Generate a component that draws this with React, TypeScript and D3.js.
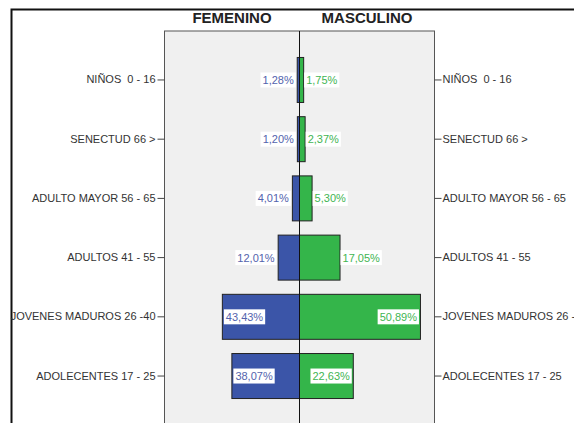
import React, { useEffect, useRef } from "react";
import * as d3 from "d3";

const categories = [
  "NIÑOS  0 - 16",
  "SENECTUD 66 >",
  "ADULTO MAYOR 56 - 65",
  "ADULTOS 41 - 55",
  "JOVENES MADUROS 26 -40",
  "ADOLECENTES 17 - 25",
];
const femenino = [1.28, 1.2, 4.01, 12.01, 43.43, 38.07];
const masculino = [1.75, 2.37, 5.3, 17.05, 50.89, 22.63];
const femLabels = ["1,28%", "1,20%", "4,01%", "12,01%", "43,43%", "38,07%"];
const mascLabels = ["1,75%", "2,37%", "5,30%", "17,05%", "50,89%", "22,63%"];
const femMax = 76;
const mascMax = 56.8;

const W = 574;
const H = 423;
const FONT = "'Liberation Sans', Arial, Helvetica, sans-serif";

export default function App() {
  const ref = useRef<SVGSVGElement>(null);

  useEffect(() => {
    const svg = d3.select(ref.current!);
    svg.selectAll("*").remove();

    const plotL = 164.5;
    const plotR = 434.5;
    const plotT = 31;
    const plotB = 425;
    const mid = 299.5;

    const y = d3
      .scaleBand<string>()
      .domain(categories)
      .range([plotT, plotB])
      .paddingInner(0.24)
      .paddingOuter(0.447);
    const xF = d3.scaleLinear().domain([0, femMax]).range([mid, plotL]);
    const xM = d3.scaleLinear().domain([0, mascMax]).range([mid, plotR]);

    // outer frame
    svg
      .append("rect")
      .attr("x", 11.5)
      .attr("y", 9.5)
      .attr("width", W + 20)
      .attr("height", H + 20)
      .attr("fill", "none")
      .attr("stroke", "#111")
      .attr("stroke-width", 2);

    // titles
    svg
      .append("text")
      .attr("x", (plotL + mid) / 2)
      .attr("y", 23)
      .attr("text-anchor", "middle")
      .attr("font-family", FONT)
      .attr("font-weight", "bold")
      .attr("font-size", 15)
      .attr("fill", "#222")
      .text("FEMENINO");
    svg
      .append("text")
      .attr("x", (mid + plotR) / 2)
      .attr("y", 23)
      .attr("text-anchor", "middle")
      .attr("font-family", FONT)
      .attr("font-weight", "bold")
      .attr("font-size", 15)
      .attr("fill", "#222")
      .text("MASCULINO");

    // plot background
    svg
      .append("rect")
      .attr("x", plotL)
      .attr("y", plotT)
      .attr("width", plotR - plotL)
      .attr("height", plotB - plotT)
      .attr("fill", "#f0f0f0")
      .attr("stroke", "#555")
      .attr("stroke-width", 1);

    // axes
    const leftAxis = d3.axisLeft(y).tickSize(7).tickPadding(2);
    const gL = svg.append("g").attr("transform", `translate(${plotL},0)`).call(leftAxis);
    const rightAxis = d3.axisRight(y).tickSize(7).tickPadding(1);
    const gR = svg.append("g").attr("transform", `translate(${plotR},0)`).call(rightAxis);
    [gL, gR].forEach((g) => {
      g.select(".domain").remove();
      g.selectAll("line").attr("stroke", "#444");
      g.selectAll("text")
        .attr("font-family", FONT)
        .attr("font-size", 11)
        .attr("fill", "#333")
        .style("white-space", "pre");
    });

    const bw = y.bandwidth();

    // bars
    svg
      .append("g")
      .selectAll("rect")
      .data(categories)
      .join("rect")
      .attr("x", (_, i) => xF(femenino[i]))
      .attr("y", (d) => y(d)!)
      .attr("width", (_, i) => mid - xF(femenino[i]))
      .attr("height", bw)
      .attr("fill", "#3b55a8")
      .attr("stroke", "#222")
      .attr("stroke-width", 1);
    svg
      .append("g")
      .selectAll("rect")
      .data(categories)
      .join("rect")
      .attr("x", mid)
      .attr("y", (d) => y(d)!)
      .attr("width", (_, i) => xM(masculino[i]) - mid)
      .attr("height", bw)
      .attr("fill", "#34b54a")
      .attr("stroke", "#222")
      .attr("stroke-width", 1);

    // center line
    svg
      .append("line")
      .attr("x1", mid)
      .attr("x2", mid)
      .attr("y1", plotT)
      .attr("y2", plotB)
      .attr("stroke", "#111")
      .attr("stroke-width", 1);

    // value labels
    const pad = 2;
    const drawLabel = (
      side: "F" | "M",
      i: number,
      label: string
    ) => {
      const cy = y(categories[i])! + bw / 2;
      const g = svg.append("g");
      const box = g.append("rect").attr("fill", "#fff");
      const t = g
        .append("text")
        .attr("font-family", FONT)
        .attr("font-size", 11)
        .attr("fill", side === "F" ? "#5363ad" : "#3fb552")
        .attr("y", cy + 4)
        .text(label);
      const tw = (t.node() as SVGTextElement).getComputedTextLength();
      const boxW = tw + pad * 2;
      const end = side === "F" ? xF(femenino[i]) : xM(masculino[i]);
      const barW = Math.abs(end - mid);
      let bx: number;
      if (barW >= boxW + 6) {
        bx = side === "F" ? end + 1.5 : end - 1.5 - boxW;
      } else {
        bx = side === "F" ? end - 1.5 - boxW : end + 0.5;
      }
      box
        .attr("x", bx)
        .attr("y", cy - 7.5)
        .attr("width", boxW)
        .attr("height", 15);
      t.attr("x", bx + pad);
    };
    femLabels.forEach((l, i) => drawLabel("F", i, l));
    mascLabels.forEach((l, i) => drawLabel("M", i, l));
  }, []);

  return (
    <svg
      ref={ref}
      width={W}
      height={H}
      style={{ position: "absolute", left: 0, top: 0, background: "#fff" }}
    />
  );
}
